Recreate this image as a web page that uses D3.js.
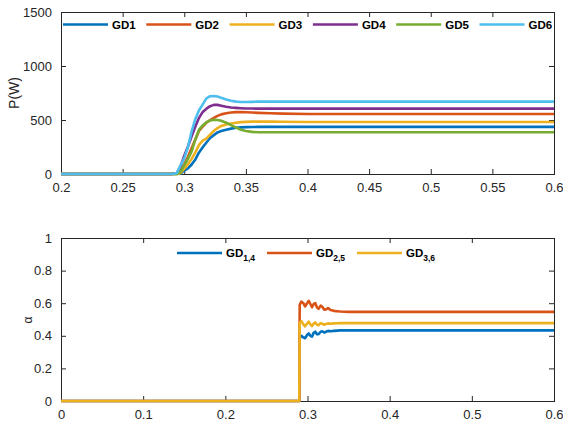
<!DOCTYPE html>
<html><head><meta charset="utf-8">
<script src="https://cdn.jsdelivr.net/npm/d3@7"></script>
<style>body{margin:0;background:#fff}svg{display:block}text{font-family:"Liberation Sans",Arial,sans-serif}</style>
</head><body><svg id="c" width="563" height="423"></svg>
<script>
// ---- Data (top: power, W) ----
const tTop = [0.2, 0.29, 0.294, 0.297, 0.3, 0.303, 0.306, 0.309, 0.312, 0.315, 0.318, 0.321, 0.324, 0.327, 0.33, 0.334, 0.338, 0.342, 0.346, 0.35, 0.355, 0.36, 0.37, 0.38, 0.4, 0.6];
const GD1 = [0, 0, 0, 5, 30, 52, 88, 135, 200, 248, 292, 333, 360, 385, 398, 410, 420, 428, 432, 434, 435, 436, 436, 436, 436, 436];
const GD2 = [0, 0, 5, 30, 90, 160, 240, 320, 400, 440, 475, 500, 520, 538, 552, 563, 570, 573, 573, 572, 569, 566, 562, 559, 556, 555];
const GD3 = [0, 0, 0, 10, 50, 90, 140, 200, 270, 310, 330, 365, 400, 425, 445, 458, 468, 475, 480, 483, 485, 486, 485, 484, 482, 481];
const GD4 = [0, 0, 10, 70, 170, 255, 350, 440, 520, 575, 605, 628, 640, 640, 632, 622, 616, 612, 609, 607, 606, 605, 605, 605, 605, 605];
const GD5 = [0, 0, 0, 20, 80, 140, 210, 320, 410, 450, 480, 495, 503, 500, 493, 475, 452, 430, 410, 398, 390, 387, 386, 386, 386, 386];
const GD6 = [0, 0, 10, 80, 145, 250, 395, 510, 590, 645, 700, 720, 722, 718, 705, 690, 678, 670, 667, 666, 668, 670, 670, 670, 670, 670];
const topNames = ["GD1", "GD2", "GD3", "GD4", "GD5", "GD6"];
const topXTicks = [0.2, 0.25, 0.3, 0.35, 0.4, 0.45, 0.5, 0.55, 0.6];
const topYTicks = [0, 500, 1000, 1500];

// ---- Data (bottom: alpha) ----
const tBot = [0, 0.29, 0.2905, 0.2925, 0.295, 0.297, 0.2995, 0.3015, 0.3035, 0.3055, 0.3075, 0.3095, 0.3115, 0.3135, 0.316, 0.318, 0.3205, 0.3225, 0.325, 0.328, 0.332, 0.336, 0.34, 0.345, 0.35, 0.36, 0.6];
const A14 = [0, 0, 0.385, 0.40, 0.39, 0.385, 0.405, 0.415, 0.40, 0.395, 0.418, 0.425, 0.41, 0.41, 0.425, 0.428, 0.42, 0.425, 0.43, 0.428, 0.43, 0.432, 0.433, 0.433, 0.433, 0.433, 0.433];
const A25 = [0, 0, 0.59, 0.61, 0.60, 0.58, 0.60, 0.615, 0.595, 0.575, 0.595, 0.60, 0.575, 0.565, 0.585, 0.578, 0.56, 0.562, 0.57, 0.558, 0.553, 0.551, 0.549, 0.548, 0.547, 0.547, 0.547];
const A36 = [0, 0, 0.48, 0.49, 0.47, 0.458, 0.475, 0.487, 0.47, 0.46, 0.475, 0.482, 0.468, 0.465, 0.478, 0.474, 0.468, 0.472, 0.476, 0.474, 0.476, 0.477, 0.478, 0.478, 0.478, 0.478, 0.478];
const botSubs = ["1,4", "2,5", "3,6"];
const botXTicks = [0, 0.1, 0.2, 0.3, 0.4, 0.5, 0.6];
const botYTicks = [0, 0.2, 0.4, 0.6, 0.8, 1];

const colors = ["#0072BD", "#D95319", "#EDB120", "#7E2F8E", "#77AC30", "#4DBEEE"];
const axisCol = "#262626";
const svg = d3.select("#c");

function panel(opts) {
  const {x0, x1, y0, y1, xDom, yDom, xTicks, yTicks, xFmt, yFmt} = opts;
  const x = d3.scaleLinear().domain(xDom).range([x0, x1]);
  const y = d3.scaleLinear().domain(yDom).range([y1, y0]);
  const g = svg.append("g");
  // box
  g.append("rect").attr("x", x0).attr("y", y0).attr("width", x1 - x0).attr("height", y1 - y0)
    .attr("fill", "#fff").attr("stroke", axisCol).attr("stroke-width", 1).attr("shape-rendering", "crispEdges");
  const ax = d3.axisBottom(x).tickValues(xTicks).tickSizeInner(-5).tickSizeOuter(0).tickPadding(9).tickFormat(xFmt);
  const ga = g.append("g").attr("transform", `translate(0,${y1})`).call(ax);
  const axt = d3.axisTop(x).tickValues(xTicks).tickSizeInner(-5).tickSizeOuter(0).tickFormat("");
  const gt = g.append("g").attr("transform", `translate(0,${y0})`).call(axt);
  const ay = d3.axisLeft(y).tickValues(yTicks).tickSizeInner(-5).tickSizeOuter(0).tickPadding(9).tickFormat(yFmt);
  const gy = g.append("g").attr("transform", `translate(${x0},0)`).call(ay);
  const ar = d3.axisRight(y).tickValues(yTicks).tickSizeInner(-5).tickSizeOuter(0).tickFormat("");
  const gr = g.append("g").attr("transform", `translate(${x1},0)`).call(ar);
  [ga, gt, gy, gr].forEach(s => {
    s.select(".domain").remove();
    s.selectAll("line").attr("stroke", axisCol);
    s.selectAll("text").attr("fill", axisCol).style("font-size", "13px").style("font-family", '"Liberation Sans",Arial,sans-serif');
  });
  return {x, y, g};
}

// ---- Top panel ----
const P = panel({x0: 61, x1: 554, y0: 12, y1: 174, xDom: [0.2, 0.6], yDom: [0, 1500],
  xTicks: topXTicks, yTicks: topYTicks, xFmt: d => d3.format("")(+d.toFixed(2)), yFmt: d => d});
const topSeries = [GD1, GD2, GD3, GD4, GD5, GD6];
const lineT = d3.line().x((d, i) => P.x(tTop[i])).y(d => P.y(d));
topSeries.forEach((s, k) => {
  P.g.append("path").datum(s).attr("d", lineT).attr("fill", "none")
    .attr("stroke", colors[k]).attr("stroke-width", 2.6).attr("stroke-linejoin", "round");
});
svg.append("text").attr("transform", "translate(19,93) rotate(-90)").attr("text-anchor", "middle")
  .style("font-size", "14px").attr("fill", axisCol).text("P(W)");
// top legend
topNames.forEach((n, k) => {
  const lx = 63 + k * 83.3, ly = 24.5;
  svg.append("line").attr("x1", lx).attr("x2", lx + 45).attr("y1", ly).attr("y2", ly)
    .attr("stroke", colors[k]).attr("stroke-width", 2.6);
  svg.append("text").attr("x", lx + 49).attr("y", ly + 4).style("font-size", "11.5px").style("font-weight", "bold")
    .attr("fill", "#000").text(n);
});

// ---- Bottom panel ----
const B = panel({x0: 61, x1: 554, y0: 238, y1: 401, xDom: [0, 0.6], yDom: [0, 1],
  xTicks: botXTicks, yTicks: botYTicks, xFmt: d => +d.toFixed(1), yFmt: d => +d.toFixed(1)});
const botSeries = [A14, A25, A36];
const lineB = d3.line().x((d, i) => B.x(tBot[i])).y(d => B.y(d));
botSeries.forEach((s, k) => {
  B.g.append("path").datum(s).attr("d", lineB).attr("fill", "none")
    .attr("stroke", colors[k]).attr("stroke-width", 2.6).attr("stroke-linejoin", "round");
});
svg.append("text").attr("transform", "translate(32,320) rotate(-90)").attr("text-anchor", "middle")
  .style("font-size", "12px").attr("fill", axisCol).text("α");
botSubs.forEach((sub, k) => {
  const lx = 177 + k * 90, ly = 253;
  svg.append("line").attr("x1", lx).attr("x2", lx + 45).attr("y1", ly).attr("y2", ly)
    .attr("stroke", colors[k]).attr("stroke-width", 2.6);
  const t = svg.append("text").attr("x", lx + 49).attr("y", ly + 4).style("font-size", "11.5px").style("font-weight", "bold").attr("fill", "#000");
  t.append("tspan").text("GD");
  t.append("tspan").attr("dy", 4).style("font-size", "8.5px").text(sub);
});
</script></body></html>
